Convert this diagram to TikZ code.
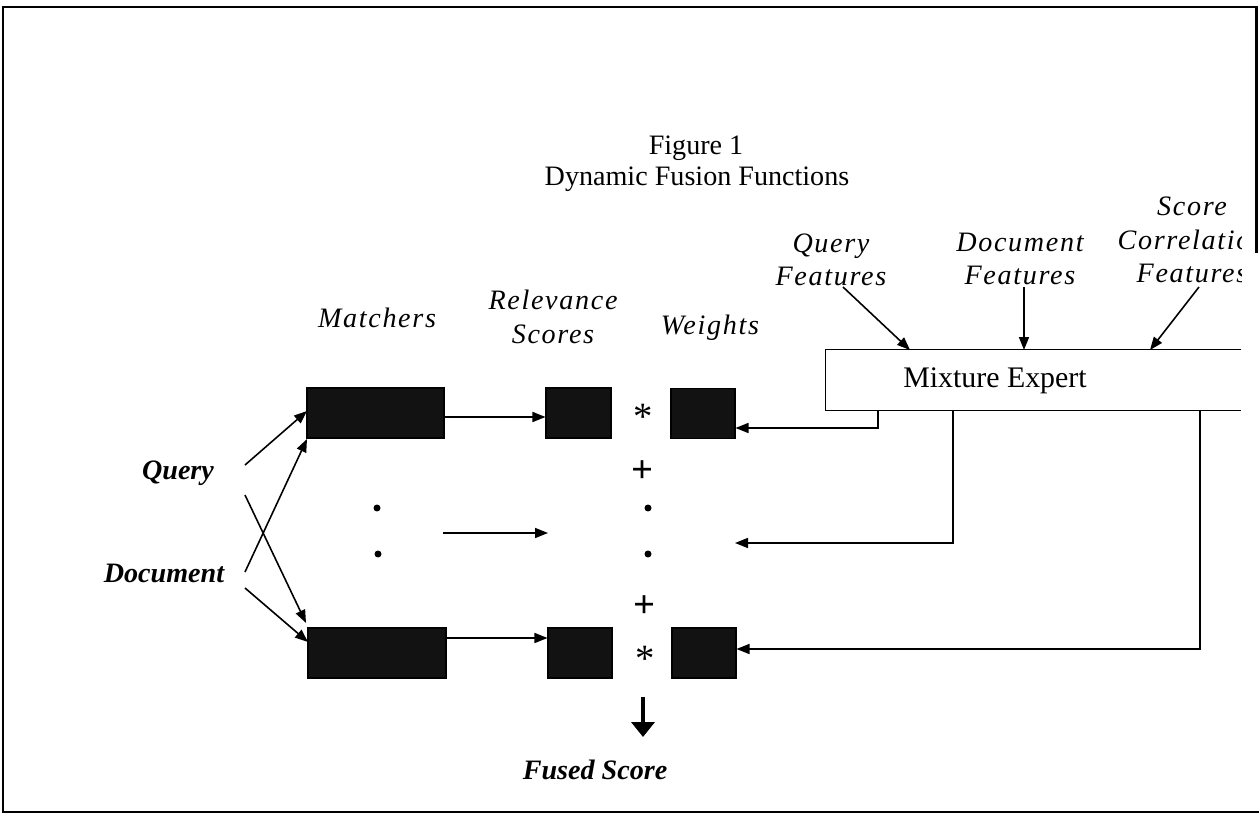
\documentclass[tikz,border=0pt]{standalone}
\usepackage{fontspec}
\setmainfont{Liberation Serif}
\newfontfamily\spit[LetterSpace=6]{Liberation Serif}
\usetikzlibrary{arrows.meta}
\begin{document}
\begin{tikzpicture}[x=0.02cm,y=-0.02cm,
  lbl/.style={font=\fontsize{16}{19}\selectfont\spit\itshape, align=center, inner sep=0pt},
  blbl/.style={font=\fontsize{16}{19}\selectfont\bfseries\itshape, inner sep=0pt},
  ttl/.style={font=\fontsize{16}{19}\selectfont, inner sep=0pt},
  sym/.style={font=\fontsize{22}{24}\selectfont, inner sep=0pt},
  dk/.style={draw=black, fill=black!93, line width=0.6pt, inner sep=0pt, minimum height=1cm},
  arr/.style={line width=0.9pt, -{Triangle[length=0.26cm,width=0.2cm]}},
  ln/.style={line width=0.9pt},
  bdot/.style={circle, fill=black, inner sep=0pt, minimum size=0.14cm}]
\useasboundingbox (0,0) rectangle (1259,814);
% frame
\draw[line width=1.7pt] (1256,253) -- (1256,7) -- (3,7) -- (3,812) -- (1259,812);
% title
\node[ttl] (t1) at (696,148) {Figure 1};
\node[ttl] (t2) at (697,179) {Dynamic Fusion Functions};
% column labels
\node[lbl] (mat) at (377,318) {Matchers};
\node[lbl] (rel) at (553,317) {Relevance\\Scores};
\node[lbl] (wei) at (710,328) {Weights};
% feature labels
\node[lbl] (qf) at (831,260) {Query\\Features};
\node[lbl] (df) at (1020,259) {Document\\Features};
\begin{scope}
\clip (0,0) rectangle (1241,814);
\node[lbl] (sf) at (1192,240) {Score\\Correlation\\Features};
\end{scope}
% mixture expert
\node[minimum width=8.3cm, minimum height=1.2cm, inner sep=0pt] (mix) at (1033.5,380) {};
\draw[ln] (mix.north east) -- (mix.north west) -- (mix.south west) -- (mix.south east);
\node[font=\fontsize{17}{20}\selectfont, inner sep=0pt] (mixt) at (995,381) {Mixture Expert};
\coordinate (qin) at (910,350);
\coordinate (din) at (1024,350);
\coordinate (sin) at (1150,350);
\coordinate (qst) at (843,287);
\coordinate (dst) at (1024,287);
\coordinate (sst) at (1199,287);
\draw[arr] (qst) -- (qin);
\draw[arr] (dst) -- (din);
\draw[arr] (sst) -- (sin);
% boxes
\node[dk, minimum width=2.74cm] (m1) at (375.5,413) {};
\node[dk, minimum width=2.76cm] (m2) at (377,653) {};
\node[dk, minimum width=1.3cm] (r1) at (578.5,413) {};
\node[dk, minimum width=1.28cm] (r2) at (580,653) {};
\node[dk, minimum width=1.28cm] (w1) at (703,413.5) {};
\node[dk, minimum width=1.28cm] (w2) at (704,653) {};
% symbols
\node[sym] (s1) at (643,417) {*};
\node[sym] (p1) at (643,472) {\textbf{+}};
\node[bdot] (d1) at (648,508) {};
\node[bdot] (d2) at (648,554) {};
\node[sym] (p2) at (645,607) {\textbf{+}};
\node[sym] (s2) at (645,659) {*};
\node[bdot] (l1) at (377,508) {};
\node[bdot] (l2) at (378,554) {};
% inputs
\node[blbl] (q) at (178,473) {Query};
\node[blbl] (d) at (164,573) {Document};
\coordinate (qa) at (245,465);
\coordinate (qb) at (245,495);
\coordinate (da) at (245,572);
\coordinate (db) at (245,588);
\coordinate (m1a) at (307,411);
\coordinate (m1b) at (307,439);
\coordinate (m2a) at (306,623);
\coordinate (m2b) at (308,642);
\draw[arr] (qa) -- (m1a);
\draw[arr] (da) -- (m1b);
\draw[arr] (qb) -- (m2a);
\draw[arr] (db) -- (m2b);
% matcher -> relevance
\draw[arr] ([yshift=-0.08cm]m1.east) -- ([yshift=-0.08cm]r1.west);
\draw[arr] ([yshift=0.3cm]m2.east) -- ([yshift=0.3cm]r2.west);
\coordinate (ma) at (443,533);
\coordinate (mb) at (548,533);
\draw[arr] (ma) -- (mb);
% mixture -> weights
\coordinate (o1) at (878,410);
\coordinate (o2) at (953,410);
\coordinate (o3) at (1200,410);
\coordinate (wm) at (735,543);
\draw[arr] (o1) |- ([yshift=-0.29cm]w1.east);
\draw[arr] (o2) |- (wm);
\draw[arr] (o3) |- ([yshift=0.08cm]w2.east);
% fused
\coordinate (fa) at (643,697);
\coordinate (fb) at (643,737);
\draw[line width=2.6pt, -{Triangle[length=0.3cm,width=0.46cm]}] (fa) -- (fb);
\node[blbl] (fs) at (595,770) {Fused Score};
\end{tikzpicture}
\end{document}
